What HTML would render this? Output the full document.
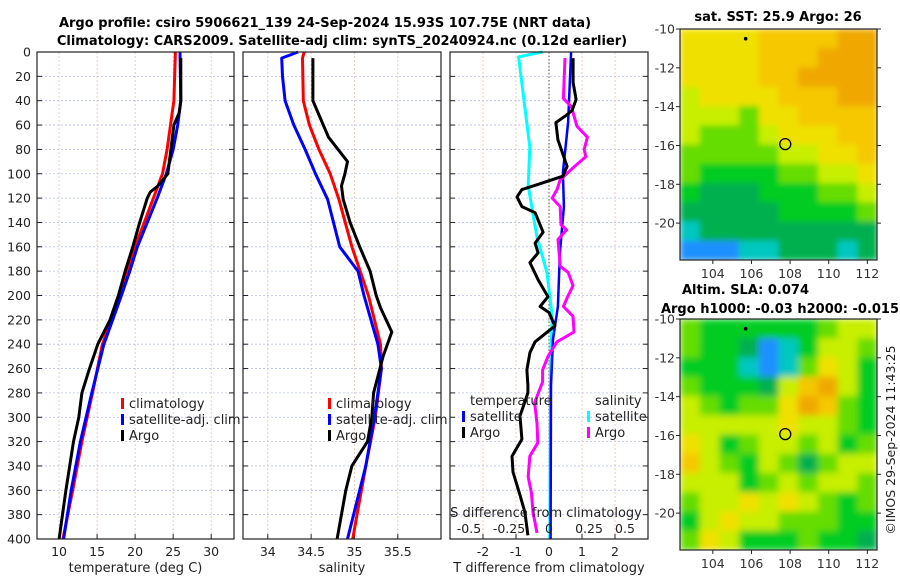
<!DOCTYPE html>
<html><head><meta charset="utf-8">
<style>
html,body{margin:0;padding:0;background:#fff;}
svg{display:block;font-family:"DejaVu Sans","Liberation Sans",sans-serif;}
</style></head>
<body>
<svg id="chart" width="900" height="580" viewBox="0 0 900 580" xmlns="http://www.w3.org/2000/svg">
<defs>
<filter id="blurA" x="0" y="0" width="1" height="1"><feGaussianBlur stdDeviation="3" edgeMode="duplicate"/></filter>
<filter id="blurB" x="0" y="0" width="1" height="1"><feGaussianBlur stdDeviation="3.5" edgeMode="duplicate"/></filter>
<clipPath id="clipA"><rect x="680" y="29" width="197" height="231"/></clipPath>
<clipPath id="clipB"><rect x="680" y="319" width="197" height="231"/></clipPath>
</defs>
<text x="325" y="27" text-anchor="middle" font-size="13" font-weight="bold">Argo profile: csiro 5906621_139 24-Sep-2024 15.93S 107.75E (NRT data)</text>
<text x="342" y="45" text-anchor="middle" font-size="13" font-weight="bold">Climatology: CARS2009. Satellite-adj clim: synTS_20240924.nc (0.12d earlier)</text>
<text x="778" y="21" text-anchor="middle" font-size="13" font-weight="bold">sat. SST: 25.9 Argo: 26</text>
<text x="682" y="294" font-size="13" font-weight="bold">Altim. SLA: 0.074</text>
<text x="780" y="313" text-anchor="middle" font-size="13" font-weight="bold">Argo h1000: -0.03 h2000: -0.015</text>
<text transform="translate(895,440) rotate(-90)" text-anchor="middle" font-size="12.5" fill="#222">©IMOS 29-Sep-2024 11:43:25</text>
<g id="g"></g>
</svg>
<script>
// ---------- data ----------
const tClimDepth=[0,40,80,100,120,160,180,200,240,280,320,360,400];
const tClimVal=[25.3,25.1,24.2,23.6,22.4,20.0,19.0,18.0,15.7,14.4,13.0,11.8,10.5];
const tSatDepth=[0,40,60,80,100,120,160,180,200,240,280,320,360,400];
const tSatVal=[25.9,26.0,25.6,25.0,24.1,22.9,20.3,19.3,18.2,15.9,14.3,12.8,11.6,10.6];
const tArgoDepth=[5,40,50,60,80,100,110,115,120,140,160,180,200,220,240,260,280,300,320,360,400];
const tArgoVal=[26.0,26.0,25.8,25.1,24.7,24.3,23.0,22.0,21.6,20.6,19.7,18.7,17.8,16.7,15.1,14.0,13.0,12.6,11.9,10.9,10.0];

const sClimDepth=[0,5,40,60,80,100,121,160,200,240,260,300,340,400];
const sClimVal=[34.42,34.40,34.41,34.48,34.59,34.72,34.82,34.97,35.16,35.30,35.31,35.24,35.13,34.98];
const sSatDepth=[0,5,20,40,60,80,100,121,160,180,200,240,260,300,340,400];
const sSatVal=[34.35,34.16,34.17,34.20,34.30,34.43,34.55,34.69,34.83,35.04,35.11,35.27,35.31,35.23,35.13,34.92];
const sArgoDepth=[5,40,50,70,90,100,110,121,140,160,180,200,210,230,250,280,300,320,340,360,400];
const sArgoVal=[34.52,34.52,34.58,34.70,34.92,34.89,34.85,34.87,34.95,35.06,35.18,35.25,35.30,35.43,35.33,35.22,35.20,35.15,34.97,34.90,34.80];

const dTSatDepth=[0,58,99,127,165,209,236,274,400];
const dTSatVal=[0.67,0.58,0.42,0.45,0.33,0.27,0.12,0.06,0.05];
const dTArgoDepth=[5,25,39,48,52,58,72,94,102,109,113,119,127,132,148,157,165,173,187,201,209,214,225,238,247,261,274,280,299,318,332,345,364,378,397];
const dTArgoVal=[0.73,0.73,0.82,0.70,0.52,0.21,0.27,0.55,0.42,-0.36,-0.82,-0.97,-0.82,-0.42,-0.18,-0.42,-0.33,-0.58,-0.33,-0.03,-0.27,0.0,0.18,-0.42,-0.58,-0.67,-0.64,-0.64,-0.88,-0.82,-1.12,-1.09,-0.88,-0.73,-0.64];
const dSSatDepth=[0,4,78,110,152,181,217,260,400];
const dSSatVal=[-0.04,-0.19,-0.12,-0.13,-0.075,-0.013,0.02,0.01,0.005];
const dSArgoDepth=[5,38,45,61,70,80,86,94,105,113,120,127,142,146,154,176,181,192,200,209,217,230,238,250,261,271,288,305,321,332,349,362,378,395];
const dSArgoVal=[0.10,0.09,0.14,0.175,0.24,0.22,0.23,0.16,0.07,0.05,0.02,0.07,0.075,0.11,0.056,0.07,0.12,0.15,0.12,0.09,0.15,0.156,0.05,-0.006,-0.04,-0.04,-0.09,-0.075,-0.07,-0.12,-0.13,-0.11,-0.10,-0.075];

const depthTicks=[0,20,40,60,80,100,120,140,160,180,200,220,240,260,280,300,320,340,360,380,400];
const tTicks=[10,15,20,25,30];
const sTicks=[34,34.5,35,35.5];
const dTTicks=[-2,-1,0,1,2];
const dSTicks=[-0.5,-0.25,0,0.25,0.5];
const dSTickLabels=["-0.5","-0.25","0","0.25","0.5"];

const palette=["#1e90ff","#00c8c0","#00b050","#00cc22","#66dd00","#c8ee00","#f0e000","#f5c800","#f0a800"];
const sstGrid=[
[6,6,6,6,7,7,7,7,8,8],[6,6,6,6,7,7,7,8,8,8],[6,6,6,6,7,7,8,8,8,8],[5,6,6,6,6,7,7,7,8,8],
[5,5,5,4,6,6,7,7,7,7],[5,4,4,4,5,6,6,6,7,7],[4,4,4,4,4,5,5,6,6,7],[4,3,3,3,3,4,4,5,5,6],
[3,2,2,2,3,3,3,4,4,5],[2,2,2,2,2,3,3,3,3,4],[1,2,2,2,2,2,2,2,2,2],[0,0,0,1,1,2,2,2,1,2]];
const slaGrid=[
[4,3,3,3,3,3,3,4,5,5],[4,3,3,2,0,1,3,5,5,4],[3,3,3,1,0,1,4,6,5,3],[4,3,3,3,2,5,7,8,5,3],
[5,4,3,4,4,6,8,7,4,3],[5,5,5,5,5,6,5,5,4,3],[6,5,3,4,5,5,4,5,3,4],[7,5,4,3,5,4,2,4,5,5],
[5,5,5,3,4,5,4,5,5,4],[4,5,5,6,5,6,5,4,3,4],[3,5,6,5,5,4,4,4,3,3],[4,6,5,3,3,3,4,3,3,2]];
const lonTicks=[104,106,108,110,112];
const latTicks=[-10,-12,-14,-16,-18,-20];
const argoLon=107.75, argoLat=-15.93;

// ---------- drawing ----------
const NS="http://www.w3.org/2000/svg";
const root=document.getElementById('g');
function mk(tag,attrs,parent){const e=document.createElementNS(NS,tag);for(const k in attrs)e.setAttribute(k,attrs[k]);(parent||root).appendChild(e);return e;}
function txt(s,attrs,parent){const e=mk('text',attrs,parent);e.textContent=s;return e;}
const Y0=52,Y1=539;
const yD=d=>Y0+(Y1-Y0)*d/400;

function panel(name,x0,x1,xmin,xmax,xticks,xlabels,xtitle,showY){
  const sx=v=>x0+(x1-x0)*(v-xmin)/(xmax-xmin);
  const g=mk('g',{});
  
  
  depthTicks.forEach(d=>{const l=mk('line',{x1:x0,x2:x1,y1:yD(d),y2:yD(d),stroke:'#b8c0e8','stroke-width':0.8,'stroke-dasharray':'2,2'},g);
    });
  xticks.forEach((v,i)=>{const l=mk('line',{x1:sx(v),x2:sx(v),y1:Y0,y2:Y1,stroke:'#e0c0b0','stroke-width':0.8,'stroke-dasharray':'2,2'},g);
    
    const t=mk('line',{x1:sx(v),x2:sx(v),y1:Y1,y2:Y1-5,stroke:'#222'},g);
    
    const lb=txt(xlabels[i],{x:sx(v),y:556,'text-anchor':'middle','font-size':12.5,fill:'#222'},g);
    });
  depthTicks.forEach(d=>{
    const a=mk('line',{x1:x0,x2:x0+5,y1:yD(d),y2:yD(d),stroke:'#222'},g);
    const b=mk('line',{x1:x1,x2:x1-5,y1:yD(d),y2:yD(d),stroke:'#222'},g);
    if(showY){const lb=txt(String(d),{x:31,y:yD(d)+4.5,'text-anchor':'end','font-size':12.5,fill:'#222'},g);
      }
  });
  const t=txt(xtitle,{x:(x0+x1)/2,y:572,'text-anchor':'middle','font-size':13,fill:'#222'},g);
  
  return {g,sx,x0,x1};
}
function series(p,name,depths,vals,color,w,sxf){
  const f=sxf||p.sx;
  const pts=depths.map((d,i)=>f(vals[i]).toFixed(1)+','+yD(d).toFixed(1)).join(' ');
  const l=mk('polyline',{points:pts,fill:'none',stroke:color,'stroke-width':w||3,'stroke-linejoin':'round'},p.g);
  
}
function frame(p){const r=mk('rect',{x:p.x0,y:Y0,width:p.x1-p.x0,height:Y1-Y0,fill:'none',stroke:'#222','stroke-width':1.2},p.g);
  }
function legend(p,x,y,items){
  items.forEach((it,i)=>{
    const m=mk('rect',{x:x,y:y+i*16-10,width:3,height:11,fill:it[1]},p.g);
    
    const t=txt(it[0],{x:x+8,y:y+i*16,'font-size':13,fill:'#222'},p.g);
    
  });
}

// Panel 1: temperature
const p1=panel('temperature-panel',37,234,7.1,33.0,tTicks,tTicks.map(String),'temperature (deg C)',true);
series(p1,'temp-climatology-line',tClimDepth,tClimVal,'#ff0000',3);
series(p1,'temp-satellite-line',tSatDepth,tSatVal,'#0000ff',3);
series(p1,'temp-argo-line',tArgoDepth,tArgoVal,'#000',3);
frame(p1);
legend(p1,121,408,[['climatology','#ff0000'],['satellite-adj. clim','#0000ff'],['Argo','#000']]);

// Panel 2: salinity
const p2=panel('salinity-panel',243,441,33.714,35.998,sTicks,sTicks.map(String),'salinity',false);
series(p2,'sal-climatology-line',sClimDepth,sClimVal,'#ff0000',3);
series(p2,'sal-satellite-line',sSatDepth,sSatVal,'#0000ff',3);
series(p2,'sal-argo-line',sArgoDepth,sArgoVal,'#000',3);
frame(p2);
legend(p2,328,408,[['climatology','#ff0000'],['satellite-adj. clim','#0000ff'],['Argo','#000']]);

// Panel 3: differences
const p3=panel('difference-panel',450,648,-3.0,3.0,dTTicks,dTTicks.map(String),'T difference from climatology',false);
const sxS=v=>549+160*v;
const zl=mk('line',{x1:549,x2:549,y1:Y0,y2:Y1,stroke:'#555','stroke-width':1,'stroke-dasharray':'1.5,2'},p3.g);

series(p3,'dS-satellite-line',dSSatDepth,dSSatVal,'#00ffff',3,sxS);
series(p3,'dT-satellite-line',dTSatDepth,dTSatVal,'#0000ff',2.5);
series(p3,'dS-argo-line',dSArgoDepth,dSArgoVal,'#ff00ff',3,sxS);
series(p3,'dT-argo-line',dTArgoDepth,dTArgoVal,'#000',3);
frame(p3);
(function(){
  const a=txt('temperature',{x:470,y:405,'font-size':13,fill:'#222'},p3.g);
  const b=txt('salinity',{x:595,y:405,'font-size':13,fill:'#222'},p3.g);
})();
legend(p3,462,421,[['satellite','#0000ff'],['Argo','#000']]);
legend(p3,587,421,[['satellite','#00ffff'],['Argo','#ff00ff']]);
(function(){
  const t=txt('S difference from climatology',{x:546,y:517,'text-anchor':'middle','font-size':13,fill:'#222'},p3.g);
  
  dSTicks.forEach((v,i)=>{const l=txt(dSTickLabels[i],{x:sxS(v)-(v===0.5?4:0),y:533,'text-anchor':'middle','font-size':12.5,fill:'#222'},p3.g);
    });
})();

// Maps
function map(name,top,grid,filt,clip){
  const L=680,R=877,B=top+231,lon0=102.3,lon1=112.5,lat0=-10,lat1=-21.9;
  const sx=v=>L+(R-L)*(v-lon0)/(lon1-lon0), sy=v=>top+(B-top)*(v-lat0)/(lat1-lat0);
  const g=mk('g',{});
  const cg=mk('g',{'clip-path':'url(#'+clip+')'},g);
  
  const bg=mk('g',{filter:'url(#'+filt+')'},cg);
  
  const rows=grid.length,cols=grid[0].length,cw=(R-L)/cols,ch=(B-top)/rows;
  grid.forEach((row,r)=>row.forEach((c,k)=>{
    const e=mk('rect',{x:(L+k*cw).toFixed(2),y:(top+r*ch).toFixed(2),width:(cw+0.6).toFixed(2),height:(ch+0.6).toFixed(2),fill:palette[c]},bg);
    }));
  const fr=mk('rect',{x:L,y:top,width:R-L,height:B-top,fill:'none',stroke:'#222','stroke-width':1.2},g);
  
  lonTicks.forEach(v=>{const t=mk('line',{x1:sx(v),x2:sx(v),y1:B,y2:B+4,stroke:'#222'},g);
    const l=txt(String(v),{x:sx(v),y:B+18,'text-anchor':'middle','font-size':12.5,fill:'#333'},g);});
  latTicks.forEach(v=>{const t=mk('line',{x1:L-4,x2:L,y1:sy(v),y2:sy(v),stroke:'#222'},g);
    const t2=mk('line',{x1:R,x2:R+4,y1:sy(v),y2:sy(v),stroke:'#222'},g);
    const l=txt(String(v),{x:L-5,y:sy(v)+4.5,'text-anchor':'end','font-size':12.5,fill:'#333'},g);});
  const c=mk('circle',{cx:sx(argoLon),cy:sy(argoLat),r:5.5,fill:'none',stroke:'#000','stroke-width':1.3},g);
  
  const d=mk('circle',{cx:sx(105.7),cy:sy(-10.5),r:1.8,fill:'#000'},g);
  
}
map('sst-map',29,sstGrid,'blurA','clipA');
map('sla-map',319,slaGrid,'blurB','clipB');
</script>
</body></html>
